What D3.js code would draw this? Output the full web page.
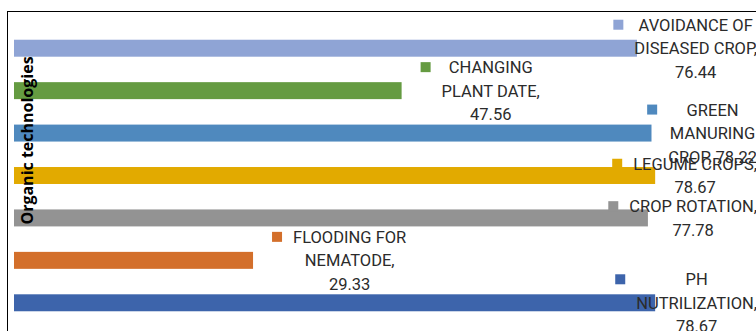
<!DOCTYPE html>
<html>
<head>
<meta charset="utf-8">
<script src="https://cdn.jsdelivr.net/npm/d3@7"></script>
<style>
  html, body { margin: 0; padding: 0; background: #fff; }
  svg { display: block; }
</style>
</head>
<body>
<svg id="chart" width="756" height="331"></svg>
<script>
// ---- data ----
const categories = [
  "AVOIDANCE OF DISEASED CROP",
  "CHANGING PLANT DATE",
  "GREEN MANURING CROP",
  "LEGUME CROPS",
  "CROP ROTATION",
  "FLOODING FOR NEMATODE",
  "PH NUTRILIZATION"
];
const values = [76.44, 47.56, 78.22, 78.67, 77.78, 29.33, 78.67];
const colors = ["#8FA4D5", "#659B41", "#4F89BE", "#E2AA00", "#939393", "#D36F2B", "#3D64AB"];
// how each data label wraps (last line holds the value)
const labelLines = [
  ["AVOIDANCE OF", "DISEASED CROP,", "76.44"],
  ["CHANGING", "PLANT DATE,", "47.56"],
  ["GREEN", "MANURING", "CROP, 78.22"],
  ["LEGUME CROPS,", "78.67"],
  ["CROP ROTATION,", "77.78"],
  ["FLOODING FOR", "NEMATODE,", "29.33"],
  ["PH", "NUTRILIZATION,", "78.67"]
];
const axisTitle = "Organic technologies";

// ---- layout ----
const svg = d3.select("#chart");
const x = d3.scaleLinear().domain([0, 100]).range([14, 829]);
const y = d3.scaleBand().domain(categories).range([27, 324])
  .paddingInner(0.6).paddingOuter(0.3);

// chart border (extends beyond the cropped picture)
svg.append("rect")
  .attr("x", 7.5).attr("y", 11.5).attr("width", 900).attr("height", 400)
  .attr("fill", "none").attr("stroke", "#000").attr("stroke-width", 1);

// bars
svg.append("g").selectAll("rect")
  .data(categories)
  .join("rect")
  .attr("x", x(0))
  .attr("y", d => y(d))
  .attr("width", (d, i) => x(values[i]) - x(0))
  .attr("height", y.bandwidth())
  .attr("fill", (d, i) => colors[i]);

// axis title
svg.append("text")
  .attr("transform", "translate(32.5,140.5) rotate(-90)")
  .attr("text-anchor", "middle")
  .attr("font-family", "'Open Sans', sans-serif")
  .attr("font-weight", "bold")
  .attr("font-size", 16)
  .attr("fill", "#000")
  .text(axisTitle);

// data labels with legend keys
const fontFamily = "Roboto, 'Liberation Sans', sans-serif";
const fontSize = 16.5;
const lineH = 23.5;
const chartRight = 757;
const measure = svg.append("text").attr("font-family", fontFamily).attr("font-size", fontSize)
  .attr("visibility", "hidden");
function textWidth(s) { measure.text(s); return measure.node().getComputedTextLength(); }

const labels = svg.append("g");
categories.forEach((c, i) => {
  const lines = labelLines[i];
  const maxW = d3.max(lines, textWidth);
  const textLeft = Math.min(x(values[i]) + 40, chartRight - maxW);
  const cx = textLeft + maxW / 2;
  const cy = y(c) + y.bandwidth() / 2;
  const firstY = cy - (lines.length - 1) * lineH / 2;
  const g = labels.append("g");
  g.append("rect")
    .attr("x", textLeft - 21)
    .attr("y", firstY - 5)
    .attr("width", 10).attr("height", 10)
    .attr("fill", colors[i]);
  g.selectAll("text")
    .data(lines)
    .join("text")
    .attr("x", cx)
    .attr("y", (d, k) => firstY + k * lineH)
    .attr("dy", "0.36em")
    .attr("text-anchor", "middle")
    .attr("font-family", fontFamily)
    .attr("font-size", fontSize)
    .attr("fill", "#2b2b2b")
    .text(d => d);
});
measure.remove();
</script>
</body>
</html>
